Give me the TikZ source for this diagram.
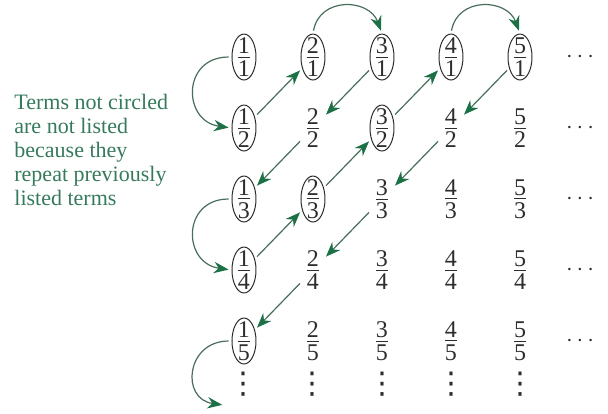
\documentclass[tikz,border=0pt]{standalone}
\usepackage{fontspec}
\setmainfont{Liberation Serif}
\newfontfamily\timesface{Liberation Serif}
\newfontfamily\symface{DejaVu Sans}
\usetikzlibrary{arrows.meta,shapes.geometric}
\definecolor{leaf}{RGB}{28,112,70}
\definecolor{moss}{RGB}{72,110,90}
\definecolor{note}{RGB}{54,122,92}
\definecolor{numink}{RGB}{45,45,45}
\newcommand{\fr}[2]{\vbox{\offinterlineskip\halign{\hfil##\hfil\cr#1\cr\noalign{\kern1.5pt\hrule height 0.45pt\kern1.5pt}#2\cr}}}
\tikzset{
  term/.style={ellipse, inner xsep=0pt, inner ysep=-3pt, minimum width=12pt, minimum height=23pt, text=numink, font=\timesface\fontsize{12}{12}\selectfont},
  ringline/.style={draw=numink, line width=0.5pt},
  dotsnode/.style={inner sep=0pt, text=numink, font=\timesface\fontsize{12}{12}\selectfont},
  colnode/.style={inner sep=0pt, text=numink, font=\symface\fontsize{15}{15}\selectfont},
  note/.style={inner sep=0pt, align=left, text=note, font=\timesface\fontsize{11}{12}\selectfont},
  hop/.style={draw=moss, line width=0.6pt, -{Stealth[length=2.6mm, width=2mm, color=leaf]}, shorten <=1.5pt, shorten >=1.5pt}
}

\begin{document}
\begin{tikzpicture}
  \useasboundingbox (-4.288,1.002) rectangle (6.397,-6.256);
  \foreach \j in {1,...,5}
    \foreach \i in {1,...,5}
      \node[term] (p\i\j) at ({(\i-1)*1.2126},{-(\j-1)*1.2477}) {\fr{\i}{\j}};
  \foreach \c in {11,21,31,41,51,12,32,13,23,14,15}
    \draw[ringline] (p\c) ellipse [x radius=6pt, y radius=11.5pt];
  \foreach \j in {1,...,5}
    \node[dotsnode] (c\j) at (5.905,{-(\j-1)*1.2477}) {$\cdots$};
  \foreach \i in {1,...,5}
    \node[colnode] (v\i) at ({(\i-1)*1.2126},-5.75) {⋮};
  \node[note, anchor=north west] (why) at (-4.042,-0.65) {Terms not circled\\ are not listed\\ because they\\ repeat previously\\ listed terms};
  \coordinate (more) at (-0.33,-6.12);
  % zigzag through the array
  \draw[hop] (p11.west) to[out=180, in=172, looseness=1.8] (p12.west);
  \draw[hop] (p12) -- (p21);
  \draw[hop] (p21.north) to[out=80, in=110, looseness=1.4] (p31.north);
  \foreach \a/\b in {31/22, 22/13} \draw[hop] (p\a) -- (p\b);
  \draw[hop] (p13.west) to[out=180, in=172, looseness=1.8] (p14.west);
  \foreach \a/\b in {14/23, 23/32, 32/41} \draw[hop] (p\a) -- (p\b);
  \draw[hop] (p41.north) to[out=80, in=110, looseness=1.4] (p51.north);
  \foreach \a/\b in {51/42, 42/33, 33/24, 24/15} \draw[hop] (p\a) -- (p\b);
  \draw[hop] (p15.west) to[out=180, in=172, looseness=1.8] (more);
\end{tikzpicture}
\end{document}
